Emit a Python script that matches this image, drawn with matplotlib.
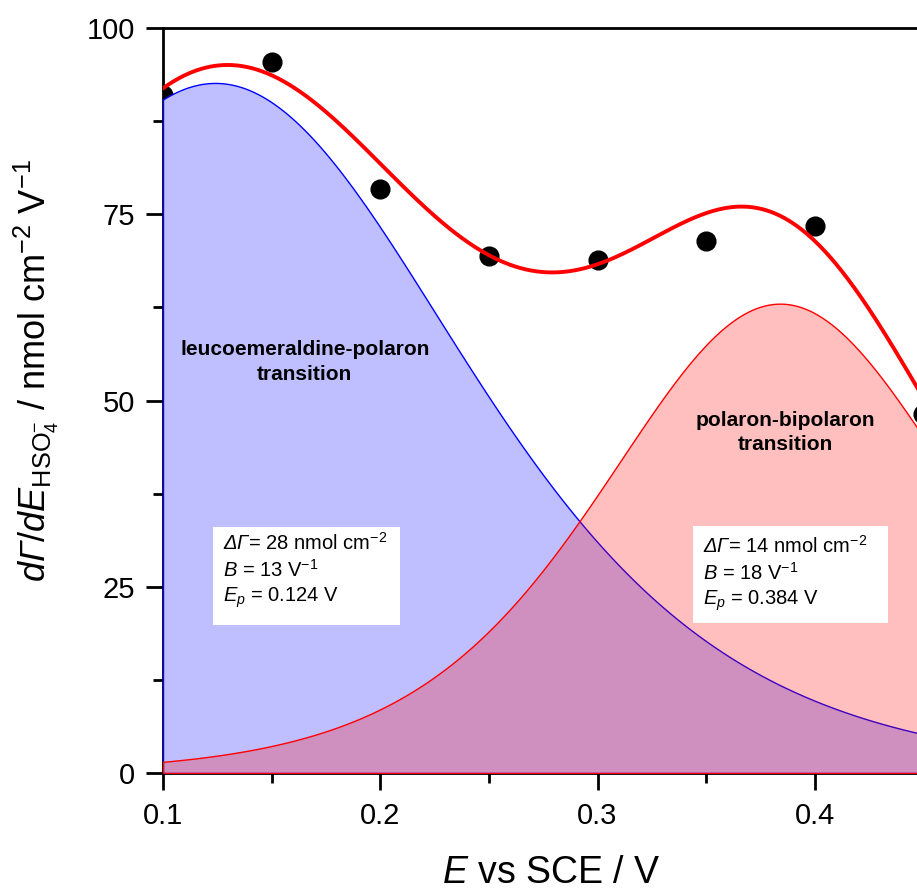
"""
plot.py

dGamma/dE of HSO4- vs potential for the two redox transitions,
measured points + sum of the two fitted peak components.
"""

import matplotlib
matplotlib.use("Agg")
import matplotlib.pyplot as plt
from matplotlib.patches import Rectangle
from matplotlib.ticker import MultipleLocator
import numpy as np

E_meas = [0.10, 0.15, 0.20, 0.25, 0.30, 0.35, 0.40, 0.45]
dG_meas = [91.0, 95.4, 78.4, 69.4, 68.9, 71.4, 73.4, 48.2]

# fitted peak parameters: leucoemeraldine-polaron, polaron-bipolaron
delta_gamma = [28.5, 14.0]   # nmol cm-2
peak_B = [13.0, 18.0]        # V-1
peak_Ep = [0.124, 0.384]     # V

# values printed in the boxes
box_gamma = ["28", "14"]
box_B = ["13", "18"]
box_Ep = ["0.124", "0.384"]

plt.rcParams["font.family"] = ["Liberation Sans", "DejaVu Sans"]
plt.rcParams["mathtext.fontset"] = "custom"
plt.rcParams["mathtext.rm"] = "Liberation Sans"
plt.rcParams["mathtext.it"] = "Liberation Sans:italic"
plt.rcParams["mathtext.bf"] = "Liberation Sans:bold"
plt.rcParams["mathtext.sf"] = "Liberation Sans:italic"  # used for italic greek


def component(E, dg, B, Ep):
    ex = np.exp(-B * (E - Ep))
    return dg * B * ex / (1 + ex) ** 2


W, H = 917, 891
fig = plt.figure(figsize=(W / 100, H / 100), dpi=100)
# axes runs past the right edge of the figure on purpose (cropped panel)
ax = fig.add_axes([163 / W, 118 / H, 869 / W, 745 / H])
ax.set_xlim(0.1, 0.5)
ax.set_ylim(0, 100)

E = np.linspace(0.1, 0.5, 800)
blue = component(E, delta_gamma[0], peak_B[0], peak_Ep[0])
red = component(E, delta_gamma[1], peak_B[1], peak_Ep[1])

# --- filled components ---
ax.fill_between(E, 0, blue, facecolor="#BFBFFF", edgecolor="blue", linewidth=1.0, zorder=3)
ax.fill_between(E, 0, red, facecolor=(1, 0, 0, 0.25), edgecolor="red", linewidth=1.0, zorder=3.1)

# --- measured points + sum of fit ---
ax.plot(E_meas, dG_meas, "o", color="black", markersize=13.5, zorder=2.8)
ax.plot(E, blue + red, color="red", linewidth=2.8, zorder=5)

# --- labels of the transitions ---
ax.text(0.1653, 56.1, "leucoemeraldine-polaron", ha="center", va="baseline",
        fontsize=15, fontweight="bold", zorder=6)
ax.text(0.1653, 52.75, "transition", ha="center", va="baseline",
        fontsize=15, fontweight="bold", zorder=6)
ax.text(0.3865, 46.6, "polaron-bipolaron", ha="center", va="baseline",
        fontsize=15, fontweight="bold", zorder=6)
ax.text(0.3865, 43.4, "transition", ha="center", va="baseline",
        fontsize=15, fontweight="bold", zorder=6)


# --- parameter boxes (pixel layout -> axes fraction) ---
def px_x(p):
    return (p - 163) / 869


def px_y(p):
    return (773 - p) / 745


boxes = [(213, 400, 527, 625, 223, [550, 577, 602]),
         (693, 888, 526, 623, 703, [553, 580, 605])]
for i, (x0, x1, y0, y1, tx, base) in enumerate(boxes):
    ax.add_patch(Rectangle((px_x(x0), px_y(y1)), px_x(x1) - px_x(x0), px_y(y0) - px_y(y1),
                           transform=ax.transAxes, facecolor="white", edgecolor="none", zorder=6))
    lines = [r"$\mathsf{\Delta\Gamma}$= " + box_gamma[i] + r" nmol cm$^{-2}$",
             r"$B$ = " + box_B[i] + r" V$^{-1}$",
             r"$E_p$ = " + box_Ep[i] + " V"]
    for line, b in zip(lines, base):
        ax.text(px_x(tx), px_y(b), line, transform=ax.transAxes, ha="left", va="baseline",
                fontsize=14.5, zorder=7)

# --- axes styling ---
ax.spines["right"].set_visible(False)
for s in ["left", "bottom", "top"]:
    ax.spines[s].set_linewidth(2)
ax.xaxis.set_major_locator(MultipleLocator(0.1))
ax.xaxis.set_minor_locator(MultipleLocator(0.05))
ax.yaxis.set_major_locator(MultipleLocator(25))
ax.yaxis.set_minor_locator(MultipleLocator(12.5))
ax.tick_params(which="major", direction="out", length=12, width=2, labelsize=21)
ax.tick_params(which="minor", direction="out", length=7, width=2)
ax.tick_params(axis="x", which="major", pad=9)
ax.tick_params(axis="y", which="major", pad=8)
ax.set_xticks([0.1, 0.2, 0.3, 0.4])
ax.set_xticklabels(["0.1", "0.2", "0.3", "0.4"])
ax.set_yticks([0, 25, 50, 75, 100])

fig.text(551 / W, 8 / H, r"$E$ vs SCE / V", ha="center", va="baseline", fontsize=27)
fig.text(12 / W, (H - 371) / H,
         r"$d\mathsf{\Gamma}/dE_{\mathrm{HSO}_4^{-}}$ / nmol cm$^{-2}$ V$^{-1}$",
         ha="left", va="center", rotation=90, fontsize=26)

fig.savefig("out.png", dpi=100)
